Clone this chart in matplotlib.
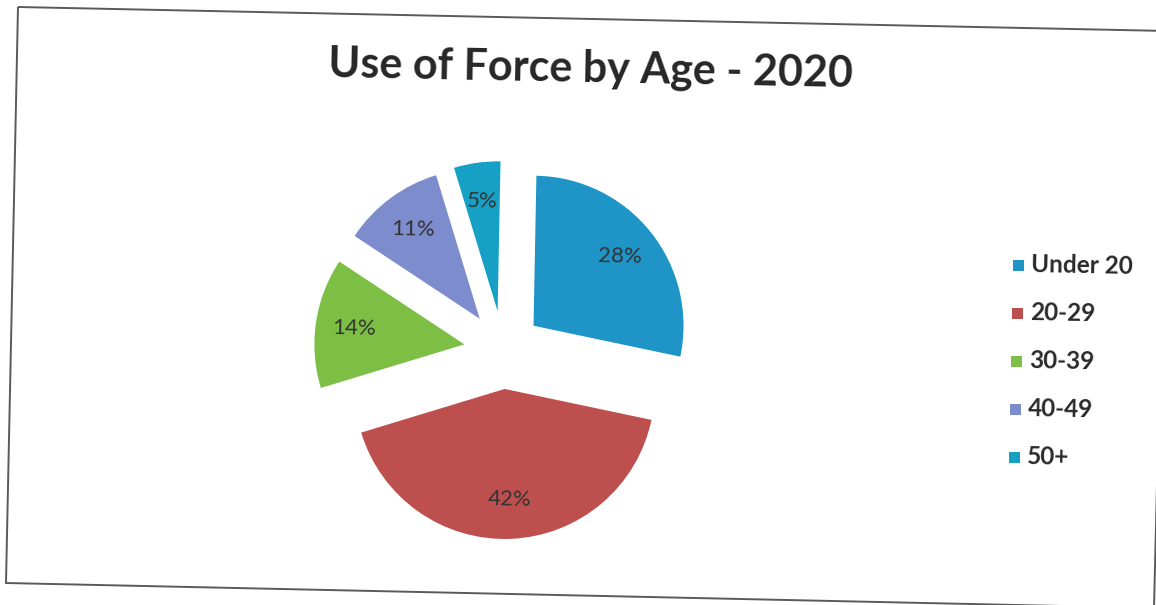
import matplotlib
matplotlib.use("Agg")
import matplotlib.pyplot as plt
from matplotlib.patches import Polygon, Rectangle

# Data
categories = ["Under 20", "20-29", "30-39", "40-49", "50+"]
shares = [28, 42, 14, 11, 5]
colors = ["#1f94c7", "#bd4f4e", "#7dbf45", "#7d8ccd", "#17a0c6"]

W, H = 1156, 605
TILT = -1.1  # slight page skew, degrees

fig = plt.figure(figsize=(W / 100, H / 100), dpi=100)
fig.patch.set_facecolor("white")

# Page frame (skewed rectangle in pixel coordinates)
frame_px = [(18, 7), (1168, 31), (1154, 608), (6, 583)]
frame = Polygon([(x / W, 1 - y / H) for x, y in frame_px], closed=True,
                fill=False, edgecolor="#5a5a5a", linewidth=1.4,
                transform=fig.transFigure)
fig.add_artist(frame)

# Pie axes: centre at (503, 350) px, radius 150 px
cx, cy, R = 503, 350, 150
half = 220
ax = fig.add_axes([(cx - half) / W, (H - cy - half) / H, 2 * half / W, 2 * half / H])
lim = half / R

wedges, texts, autotexts = ax.pie(
    shares, colors=colors, startangle=90 + TILT, counterclock=False,
    explode=[0.26] * len(shares), radius=1.0,
    autopct=lambda p: f"{p:.0f}%", pctdistance=0.74,
    wedgeprops=dict(linewidth=0),
    textprops=dict(fontsize=16, color="#333333", family="Lato"),
    frame=False,
)
ax.set_xlim(-lim, lim)
ax.set_ylim(-lim, lim)
ax.set_aspect("equal")
ax.axis("off")
for t in autotexts:
    t.set_rotation(TILT)

# Title
fig.text(591 / W, 1 - 69 / H, "Use of Force by Age - 2020", ha="center", va="center",
         fontsize=31, fontweight="bold", family="Lato", color="#262626",
         rotation=TILT)

# Legend
leg_x, leg_y0, leg_dy = 1013, 265, 48
for i, (lab, col) in enumerate(zip(categories, colors)):
    y = leg_y0 + i * leg_dy
    x = leg_x - i * 1.0
    sq = 11
    fig.add_artist(Rectangle((x / W, 1 - (y + sq / 2) / H), sq / W, sq / H,
                             transform=fig.transFigure, facecolor=col,
                             edgecolor="none"))
    fig.text((x + 18) / W, 1 - y / H, lab, ha="left", va="center",
             fontsize=17.5, fontweight="bold", family="Lato", color="#2a2a2a",
             rotation=TILT)

fig.savefig("out.png", dpi=100, facecolor="white")
